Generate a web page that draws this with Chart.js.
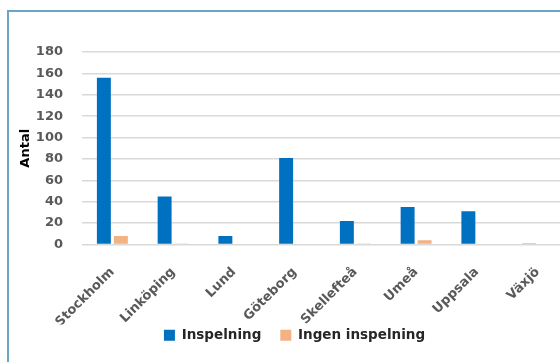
<!DOCTYPE html>
<html>
<head>
<meta charset="utf-8">
<script src="https://cdn.jsdelivr.net/npm/chart.js@4.4.0/dist/chart.umd.min.js"></script>
<style>
    html, body { margin: 0; padding: 0; background: #fff; overflow: hidden; }
    #frame {
        position: absolute; left: 7px; top: 10px;
        width: 600px; height: 400px;
        border: 2px solid #6aa6c4;
        box-sizing: border-box;
    }
    #wrap { position: absolute; left: 10px; top: 12px; width: 560px; height: 360px; }
</style>
</head>
<body>
<div id="frame"></div>
<div id="wrap"><canvas id="chart"></canvas></div>
<script>
// cities along the x axis
const cities = ["Stockholm", "Linköping", "Lund", "Göteborg", "Skellefteå", "Umeå", "Uppsala", "Växjö"]
// counts
const inspelning = [156, 45, 8, 81, 22, 35, 31, 1]
const ingenInspelning = [8, 1, 0, 0, 1, 4, 0, 0]
const yTicks = [0, 20, 40, 60, 80, 100, 120, 140, 160, 180]

const boldFont = (size) => ({ family: "DejaVu Sans", weight: "bold", size: size })

// legend keeps wide item spacing, but sits closer to the rotated labels
const moveLegend = {
    id: "moveLegend",
    afterLayout(chart) {
        chart.legend.top -= 15
        chart.legend.bottom -= 15
        chart.legend.left += 5.5
        chart.legend.right += 5.5
    }
}

new Chart(document.getElementById("chart").getContext("2d"), {
    "type": "bar",
    "data": {
        "labels": cities,
        "datasets": [
            {
                "label": "Inspelning",
                "data": inspelning,
                "backgroundColor": "#0070c0",
                "barPercentage": 0.82,
                "categoryPercentage": 0.56
            },
            {
                "label": "Ingen inspelning",
                "data": ingenInspelning,
                "backgroundColor": "#f4b183",
                "barPercentage": 0.82,
                "categoryPercentage": 0.56
            }
        ]
    },
    "plugins": [moveLegend],
    "options": {
        "responsive": true,
        "maintainAspectRatio": false,
        "animation": false,
        "layout": { "padding": { "top": 40, "right": 2, "bottom": 5, "left": 0 } },
        "plugins": {
            "tooltip": { "enabled": false },
            "legend": {
                "position": "bottom",
                "labels": {
                    "boxWidth": 11,
                    "boxHeight": 11,
                    "padding": 19,
                    "color": "#262626",
                    "font": boldFont(13.5)
                }
            }
        },
        "scales": {
            "x": {
                "grid": { "display": false },
                "border": { "display": false },
                "ticks": {
                    "color": "#595959",
                    "font": boldFont(13),
                    "minRotation": 45,
                    "maxRotation": 45,
                    "padding": 12
                },
                "afterFit": function (scale) { scale.height = 80 }
            },
            "y": {
                "min": 0,
                "max": 180,
                "afterBuildTicks": function (scale) {
                    scale.ticks = yTicks.map(v => ({ value: v }))
                },
                "grid": { "color": "#d9d9d9", "lineWidth": 1.5, "drawTicks": false },
                "border": { "display": false },
                "ticks": {
                    "color": "#595959",
                    "font": boldFont(13),
                    "padding": 19
                },
                "title": {
                    "display": true,
                    "text": "Antal",
                    "color": "#000",
                    "font": boldFont(13),
                    "padding": { "top": 8, "bottom": 0 }
                },
                "afterFit": function (scale) { scale.width = 72 }
            }
        }
    }
})
</script>
</body>
</html>
